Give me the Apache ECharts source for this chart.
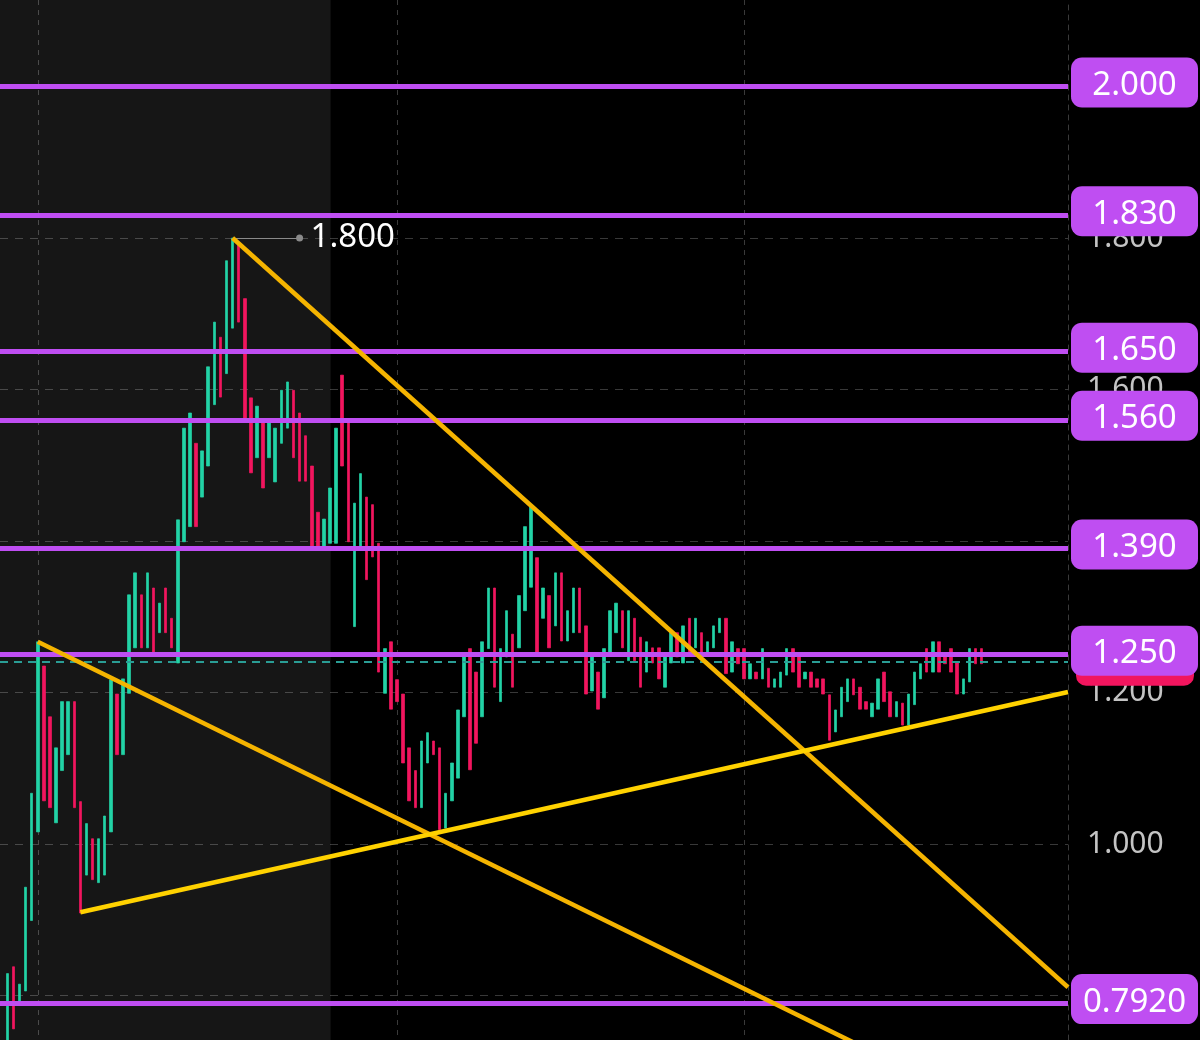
<!DOCTYPE html>
<html>
<head>
<meta charset="utf-8">
<script src="https://cdn.jsdelivr.net/npm/echarts@6/dist/echarts.min.js"></script>
<style>
  html, body { margin: 0; padding: 0; background: #000; }
  #chart { width: 1200px; height: 1040px; }
</style>
</head>
<body>
<div id="chart"></div>
<script>
// ---- data ----
const highs = [
  0.829,0.838,0.815,0.943,1.067,1.267,1.235,1.168,1.127,1.188,
  1.188,1.188,1.056,1.027,1.007,1.007,1.037,1.217,1.198,1.218,
  1.329,1.358,1.329,1.358,1.338,1.318,1.338,1.298,1.428,1.549,
  1.569,1.529,1.519,1.630,1.689,1.669,1.770,1.800,1.793,1.720,
  1.589,1.578,1.560,1.556,1.549,1.599,1.610,1.599,1.569,1.539,
  1.499,1.438,1.429,1.470,1.549,1.619,1.560,1.450,1.489,1.458,
  1.448,1.397,1.258,1.267,1.217,1.198,1.127,1.097,1.136,1.147,
  1.136,1.127,1.067,1.107,1.177,1.247,1.258,1.227,1.267,1.338,
  1.338,1.258,1.308,1.277,1.328,1.419,1.445,1.378,1.338,1.328,
  1.358,1.358,1.308,1.338,1.338,1.288,1.247,1.227,1.258,1.308,
  1.318,1.308,1.308,1.298,1.273,1.267,1.259,1.259,1.247,1.279,
  1.279,1.288,1.298,1.298,1.279,1.267,1.288,1.298,1.298,1.267,
  1.258,1.258,1.238,1.227,1.258,1.232,1.218,1.227,1.258,1.258,
  1.247,1.227,1.227,1.218,1.218,1.197,1.177,1.207,1.218,1.218,
  1.207,1.188,1.186,1.218,1.227,1.201,1.188,1.186,1.198,1.227,
  1.238,1.258,1.267,1.267,1.247,1.258,1.239,1.218,1.258,1.258,
  1.258
];
const lows = [
  0.735,0.756,0.792,0.806,0.899,1.016,1.057,1.048,1.028,1.097,
  1.118,1.048,0.909,0.959,0.953,0.949,0.959,1.016,1.118,1.118,
  1.199,1.259,1.259,1.259,1.252,1.279,1.279,1.259,1.239,1.399,
  1.419,1.419,1.458,1.499,1.580,1.590,1.621,1.681,1.689,1.562,
  1.490,1.510,1.470,1.510,1.478,1.529,1.549,1.510,1.479,1.479,
  1.392,1.392,1.392,1.397,1.397,1.499,1.399,1.287,1.392,1.349,
  1.379,1.227,1.199,1.178,1.188,1.107,1.057,1.048,1.048,1.107,
  1.118,1.019,1.021,1.057,1.087,1.168,1.098,1.133,1.168,1.258,
  1.207,1.188,1.247,1.207,1.259,1.308,1.339,1.252,1.298,1.259,
  1.288,1.268,1.268,1.279,1.279,1.198,1.202,1.178,1.193,1.250,
  1.279,1.259,1.242,1.242,1.207,1.227,1.239,1.218,1.207,1.239,
  1.247,1.239,1.250,1.259,1.247,1.250,1.259,1.279,1.225,1.227,
  1.238,1.218,1.218,1.218,1.218,1.207,1.207,1.207,1.223,1.227,
  1.207,1.218,1.207,1.207,1.198,1.137,1.148,1.168,1.188,1.197,
  1.178,1.178,1.168,1.178,1.188,1.168,1.168,1.157,1.157,1.184,
  1.218,1.227,1.227,1.227,1.238,1.227,1.198,1.198,1.214,1.238,
  1.238
];
// 1 = rising bar (green), 0 = falling bar (red)
const ups = [
  1,0,1,1,1,1,0,0,1,1,
  1,0,0,1,0,1,1,1,0,1,
  1,1,0,1,0,1,0,0,1,1,
  1,0,1,1,1,0,1,1,0,0,
  0,1,0,1,1,1,1,0,0,0,
  0,0,1,1,1,0,0,1,1,0,
  0,0,1,0,0,0,0,0,1,1,
  0,0,1,1,1,1,0,0,1,1,
  0,1,1,0,1,1,1,0,1,0,
  1,0,1,1,0,0,1,0,1,1,
  1,0,1,0,0,1,0,0,1,1,
  0,1,0,1,0,1,1,1,0,1,
  0,0,1,0,1,0,1,1,1,0,
  0,1,0,0,0,0,1,1,1,0,
  0,0,1,1,0,0,1,0,1,1,
  1,0,1,0,0,0,0,1,1,0,
  0
];

// horizontal levels (purple) and their tags
const levels      = [2.0, 1.83, 1.65, 1.56, 1.39, 1.25, 0.792];
const levelLabels = ['2.000', '1.830', '1.650', '1.560', '1.390', '1.250', '0.7920'];

// last price line
const lastPrice = 1.2436;
const lastPriceLabel = '1.244';

// session boundaries (bar index) and shaded session end
const sessionBreaks = [5, 64, 121];
const shadedSessionEnd = 53.1;

// x range (bar index) and y range shown
const xRange = [-1.2, 174.2];
const yRange = [0.7413, 2.1142];

// trend lines: [barIndex, price]
const trendFromPeak  = [[37, 1.800], [174.2, 0.811]];
const trendFromLeft  = [[5, 1.267], [174.2, 0.599]];
const trendRising    = [[12, 0.910], [174.2, 1.2007]];

// peak annotation
const peakLabel = '1.800';

// ---- build ----
const candles = highs.map((h, i) => {
  const l = lows[i];
  return ups[i] ? [i, l, h, l, h] : [i, h, l, l, h];
});
let peakIdx = 0;
highs.forEach((h, i) => { if (h > highs[peakIdx]) peakIdx = i; });

const GREEN = '#22d3a6';
const RED = '#f2155e';
const PURPLE = '#bf4ef2';
const FONT = 'Noto Sans';

const markLineData = [];
// last price dashed line with hidden pink tag
markLineData.push({
  yAxis: lastPrice,
  lineStyle: { color: '#2a9d95', type: [8, 6], width: 2 },
  label: {
    show: true, position: 'end', distance: 8,
    formatter: '{t|' + lastPriceLabel + '}',
    backgroundColor: RED, borderRadius: 10,
    rich: { t: { width: 118, height: 47, lineHeight: 47, align: 'center', color: '#fff', fontSize: 30, fontFamily: FONT } }
  }
});
levels.forEach((v, i) => {
  markLineData.push({
    yAxis: v,
    lineStyle: { color: PURPLE, type: 'solid', width: 5 },
    label: {
      show: true, position: 'end', distance: 3, offset: [0, -4],
      formatter: '{t|' + levelLabels[i] + '}',
      backgroundColor: PURPLE, borderRadius: 11, padding: [6, 0, 0, 0],
      rich: { t: { width: 127, height: 44, lineHeight: 44, align: 'center', color: '#fff', fontSize: 33, fontFamily: FONT } }
    }
  });
});
// peak annotation
markLineData.push([
  { coord: [peakIdx, highs[peakIdx]], symbol: 'none' },
  {
    coord: [peakIdx + 11, highs[peakIdx]], symbol: 'circle', symbolSize: 7,
    itemStyle: { color: '#a0a0a0' },
    lineStyle: { color: '#8a8a8a', width: 1, type: 'solid' },
    label: { show: true, position: 'end', distance: 11, formatter: peakLabel, color: '#ffffff', fontSize: 33, fontFamily: FONT }
  }
]);

const chart = echarts.init(document.getElementById('chart'), null, { renderer: 'canvas' });
chart.setOption({
  backgroundColor: '#000',
  animation: false,
  grid: { left: 0, top: 0, right: 132, bottom: 0, containLabel: false },
  xAxis: {
    type: 'value', min: xRange[0], max: xRange[1],
    axisLine: { show: false, onZero: false },
    axisLabel: { show: false },
    axisTick: { show: false, customValues: sessionBreaks },
    splitLine: { show: true, lineStyle: { color: '#3a3a3a', type: [5, 5], width: 1 } }
  },
  yAxis: {
    type: 'value', position: 'right', min: yRange[0], max: yRange[1], splitNumber: 7,
    axisLine: { show: true, onZero: false, lineStyle: { color: '#3a3a3a', type: [5, 5] } },
    axisTick: { show: false },
    axisLabel: {
      color: '#c4c4c4', fontSize: 30, fontFamily: FONT, margin: 19,
      showMinLabel: false, showMaxLabel: false,
      formatter: v => v.toFixed(3)
    },
    splitLine: { show: true, showMinLine: false, showMaxLine: false, lineStyle: { color: '#383838', type: [8, 7], width: 1 } }
  },
  series: [
    {
      type: 'candlestick', name: 'price',
      data: candles,
      encode: { x: 0, y: [1, 2, 3, 4] },
      barWidth: 3,
      z: 2,
      itemStyle: { color: GREEN, color0: RED, borderColor: GREEN, borderColor0: RED, borderWidth: 0.7 },
      markArea: {
        silent: true,
        itemStyle: { color: 'rgba(255,255,255,0.085)' },
        data: [[{ xAxis: xRange[0] }, { xAxis: shadedSessionEnd }]]
      },
      markLine: {
        silent: true, animation: false,
        symbol: ['none', 'none'],
        data: markLineData
      }
    },
    {
      type: 'line', name: 'trendFromLeft', data: trendFromLeft, z: 6,
      showSymbol: false, silent: true,
      lineStyle: { color: '#f5b400', width: 4.5 }
    },
    {
      type: 'line', name: 'trendFromPeak', data: trendFromPeak, z: 6,
      showSymbol: false, silent: true,
      lineStyle: { color: '#f5b400', width: 4.5 }
    },
    {
      type: 'line', name: 'trendRising', data: trendRising, z: 6,
      showSymbol: false, silent: true,
      lineStyle: { color: '#ffd200', width: 4.5 }
    }
  ]
});
</script>
</body>
</html>
